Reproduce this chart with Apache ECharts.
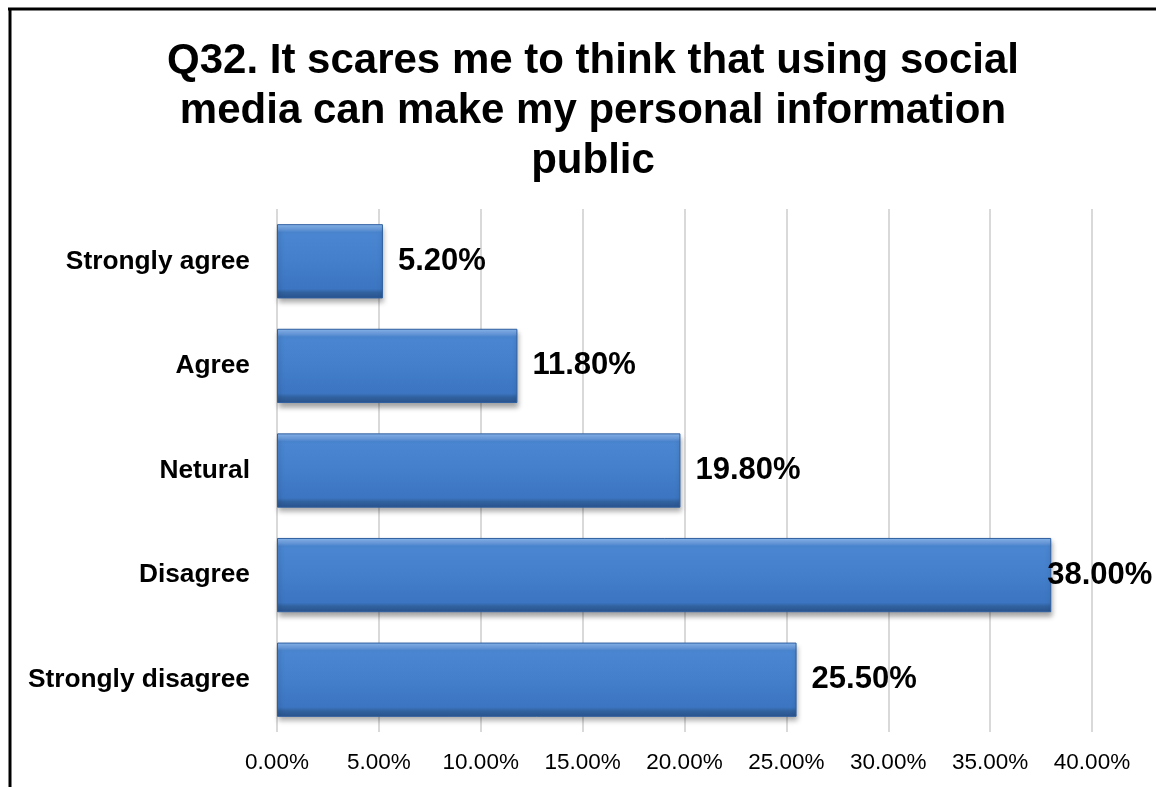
<!DOCTYPE html>
<html>
<head>
<meta charset="utf-8">
<title>Q32 survey responses</title>
<script src="https://cdn.jsdelivr.net/npm/echarts@6/dist/echarts.min.js"></script>
<style>
  html, body { margin: 0; padding: 0; background: #ffffff; }
  #chart { width: 1156px; height: 787px; }
</style>
</head>
<body>
<div id="chart"></div>
<script>
// Survey answers, top to bottom
const categories = ['Strongly agree', 'Agree', 'Netural', 'Disagree', 'Strongly disagree'];
// Share of respondents, in percent
const shares = [5.2, 11.8, 19.8, 38.0, 25.5];
// Value axis ticks (percent)
const axisMin = 0;
const axisMax = 40;
const axisStep = 5;

const titleText = 'Q32. It scares me to think that using social\nmedia can make my personal information\npublic';
const FONT = '"Liberation Sans", Arial, sans-serif';

const chart = echarts.init(document.getElementById('chart'), null, { renderer: 'canvas' });

// Bevelled blue: light top rim, flat body, dark bottom rim
const barFill = new echarts.graphic.LinearGradient(0, 0, 0, 1, [
  { offset: 0, color: '#8ab7ee' },
  { offset: 0.07, color: '#6b9fe2' },
  { offset: 0.11, color: '#4a86d1' },
  { offset: 0.5, color: '#437fcb' },
  { offset: 0.87, color: '#3c75c1' },
  { offset: 0.92, color: '#31629f' },
  { offset: 1, color: '#29528c' }
]);

// Largest bar's label would run past the right edge, so it is tucked back over the bar end
const barData = shares.map(function (v) {
  const item = { value: v };
  if (v >= 35) {
    item.label = { distance: -4 };
  }
  return item;
});

chart.setOption({
  backgroundColor: '#ffffff',
  animation: false,
  title: {
    text: titleText,
    left: 588,
    top: 31,
    textAlign: 'center',
    padding: 5,
    textStyle: {
      fontFamily: FONT,
      fontWeight: 'bold',
      fontSize: 42,
      lineHeight: 50,
      color: '#000000'
    }
  },
  grid: {
    left: 277,
    right: 64,
    top: 209,
    bottom: 55,
    containLabel: false
  },
  xAxis: {
    type: 'value',
    min: axisMin,
    max: axisMax,
    interval: axisStep,
    axisLine: { show: false },
    axisTick: { show: false },
    splitLine: { show: true, lineStyle: { color: '#d9d9d9', width: 2 } },
    axisLabel: {
      margin: 19,
      fontFamily: FONT,
      fontSize: 22.5,
      color: '#000000',
      formatter: function (v) { return v.toFixed(2) + '%'; }
    }
  },
  yAxis: {
    type: 'category',
    data: categories,
    inverse: true,
    axisLine: { show: false },
    axisTick: { show: false },
    axisLabel: {
      margin: 27,
      fontFamily: FONT,
      fontWeight: 'bold',
      fontSize: 26.3,
      color: '#000000'
    }
  },
  series: [{
    type: 'bar',
    data: barData,
    barCategoryGap: '29%',
    itemStyle: {
      color: barFill,
      borderColor: '#2f5f9f',
      borderWidth: 1,
      shadowColor: 'rgba(0,0,0,0.35)',
      shadowBlur: 5,
      shadowOffsetY: 4,
      shadowOffsetX: 1
    },
    label: {
      show: true,
      position: 'right',
      distance: 15,
      fontFamily: FONT,
      fontWeight: 'bold',
      fontSize: 31,
      color: '#000000',
      formatter: function (p) { return p.value.toFixed(2) + '%'; }
    }
  }],
  graphic: [
    {
      type: 'line',
      shape: { x1: 8, y1: 9, x2: 1156, y2: 9 },
      style: { stroke: '#000000', lineWidth: 3 }
    },
    {
      type: 'line',
      shape: { x1: 10, y1: 8, x2: 10, y2: 787 },
      style: { stroke: '#000000', lineWidth: 3 }
    }
  ]
});
</script>
</body>
</html>
